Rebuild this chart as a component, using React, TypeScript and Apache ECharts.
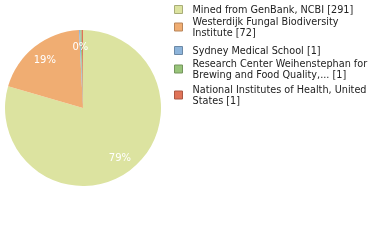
import React, { useEffect, useRef } from "react";
import * as echarts from "echarts";

const names = [
  "Mined from GenBank, NCBI",
  "Westerdijk Fungal Biodiversity Institute",
  "Sydney Medical School",
  "Research Center Weihenstephan for Brewing and Food Quality",
  "National Institutes of Health, United States",
];
const counts = [291, 72, 1, 1, 1];
const legendLabels = [
  "Mined from GenBank, NCBI [291]",
  "Westerdijk Fungal Biodiversity\nInstitute [72]",
  "Sydney Medical School [1]",
  "Research Center Weihenstephan for\nBrewing and Food Quality,... [1]",
  "National Institutes of Health, United\nStates [1]",
];
const colors = ["#dce3a0", "#f0ad72", "#8db4da", "#98c47a", "#e07358"];
const borders = ["#a8ad78", "#b8855a", "#6c89a6", "#74955d", "#ab5844"];
const legendTops = [4, 16, 45, 58, 84];

export default function App() {
  const ref = useRef<HTMLDivElement>(null);
  useEffect(() => {
    if (!ref.current) return;
    const chart = echarts.init(ref.current, null, { renderer: "svg" });
    const data = names.map((n, i) => ({
      name: n,
      value: counts[i],
      itemStyle: { color: colors[i], borderColor: borders[i], borderWidth: 0 },
    }));
    const font = "DejaVu Sans";
    chart.setOption({
      animation: false,
      legend: names.map((n, i) => ({
        data: [{ name: n, itemStyle: { color: colors[i], borderColor: borders[i], borderWidth: 1 } }],
        orient: "vertical",
        left: 174,
        top: legendTops[i],
        padding: 0,
        icon: "rect",
        itemWidth: 8,
        itemHeight: 8,
        itemGap: 0,
        selectedMode: false,
        formatter: () => legendLabels[i],
        textStyle: { fontFamily: font, fontSize: 9.7, color: "#222", lineHeight: 11, padding: [0, 0, 0, 5] },
      })),
      series: [
        {
          type: "pie",
          center: [83, 108],
          radius: [0, 78],
          startAngle: 90,
          clockwise: true,
          silent: true,
          label: { show: false },
          labelLine: { show: false },
          data,
        },
        {
          type: "pie",
          center: [83, 108],
          radius: [39, 78],
          startAngle: 90,
          clockwise: true,
          silent: true,
          itemStyle: { color: "transparent" },
          label: {
            show: true,
            position: "inside",
            color: "#fff",
            fontFamily: font,
            fontSize: 10,
            formatter: (p: any) => Math.floor(p.percent) + "%",
          },
          labelLine: { show: false },
          data: names.map((n, i) => ({ name: n + " ", value: counts[i] })),
        },
      ],
    });
    return () => chart.dispose();
  }, []);
  return <div ref={ref} style={{ position: "fixed", left: 0, top: 0, width: 380, height: 240 }} />;
}
